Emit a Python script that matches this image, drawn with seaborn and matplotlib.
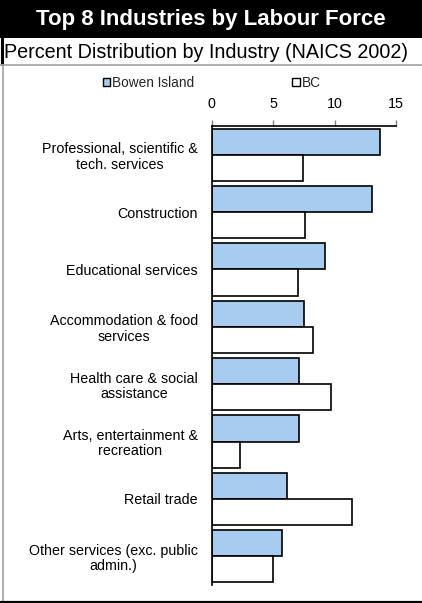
import matplotlib
matplotlib.use("Agg")
import matplotlib.pyplot as plt
import seaborn as sns
import pandas as pd
from matplotlib.patches import Rectangle
from matplotlib.lines import Line2D

categories = [
    "Professional, scientific &\ntech. services",
    "Construction",
    "Educational services",
    "Accommodation & food\nservices",
    "Health care & social\nassistance",
    "Arts, entertainment &\nrecreation",
    "Retail trade",
    "Other services (exc. public\nadmin.)",
]
bowen_island = [13.7, 13.0, 9.2, 7.5, 7.1, 7.1, 6.1, 5.7]
bc = [7.4, 7.6, 7.0, 8.2, 9.7, 2.3, 11.4, 5.0]
series_names = ["Bowen Island", "BC"]
x_ticks = [0, 5, 10, 15]

df = pd.DataFrame({
    "Industry": categories * 2,
    "Value": bowen_island + bc,
    "Region": [series_names[0]] * len(categories) + [series_names[1]] * len(categories),
})

sns.set_theme(style="white")
plt.rcParams["font.family"] = ["Liberation Sans", "DejaVu Sans"]

fig = plt.figure(figsize=(4.22, 6.03), dpi=100)
W, H = 422, 603
ax = fig.add_axes([211.7 / W, 1 - 585 / H, (396.3 - 211.7) / W, (585 - 126) / H])

palette = {"Bowen Island": "#A8CBF0", "BC": "#FFFFFF"}
sns.barplot(data=df, y="Industry", x="Value", hue="Region", order=categories,
            hue_order=series_names, palette=palette, orient="h", width=0.91,
            edgecolor="black", linewidth=1.2, ax=ax, legend=False, saturation=1)

ax.set_xlim(0, 15)
ax.set_xticks(x_ticks)
ax.set_xticklabels([str(t) for t in x_ticks])
ax.xaxis.tick_top()
ax.xaxis.set_label_position("top")
ax.set_xlabel("")
ax.set_ylabel("")
ax.tick_params(axis="x", which="both", top=True, bottom=False, length=4,
               color="#808080", width=1, labelsize=10.3, pad=7, labelcolor="black")
ax.tick_params(axis="y", length=0, labelsize=10.3, pad=10, labelcolor="black")
for lab in ax.get_yticklabels():
    lab.set_multialignment("center")
    lab.set_linespacing(1.12)
for s in ["right", "bottom"]:
    ax.spines[s].set_visible(False)
for s in ["top", "left"]:
    ax.spines[s].set_visible(True)
    ax.spines[s].set_color("black")
    ax.spines[s].set_linewidth(1.2)

# legend
handles = [
    Rectangle((0, 0), 1, 1, facecolor=palette["Bowen Island"], edgecolor="black", linewidth=1),
    Rectangle((0, 0), 1, 1, facecolor=palette["BC"], edgecolor="black", linewidth=1),
]
fig.legend(handles, series_names, loc="center", bbox_to_anchor=(0.502, 1 - 83 / H),
           ncol=2, frameon=False, fontsize=9.8, handlelength=0.55, handleheight=0.55,
           handletextpad=0.15, columnspacing=7.2, borderpad=0)

# header band and frame
fig.patches.append(Rectangle((0, 1 - 38 / H), 1, 38 / H, transform=fig.transFigure,
                             facecolor="black", edgecolor="none", zorder=0))
fig.text(0.5, 1 - 19 / H, "Top 8 Industries by Labour Force", color="white",
         fontsize=16, fontweight="bold", ha="center", va="center")
fig.text(0.489, 1 - 52 / H, "Percent Distribution by Industry (NAICS 2002)", color="black",
         fontsize=14.2, ha="center", va="center")
fig.lines.append(Line2D([1.5 / W, 1.5 / W], [1 - 38 / H, 1 - 64 / H], transform=fig.transFigure,
                        color="black", linewidth=2.2))
fig.lines.append(Line2D([0, 1], [1 - 65 / H, 1 - 65 / H], transform=fig.transFigure,
                        color="#A0A0A0", linewidth=1.2))
fig.lines.append(Line2D([2.5 / W, 2.5 / W], [1 - 65 / H, 1 - 601 / H], transform=fig.transFigure,
                        color="#A0A0A0", linewidth=1.2))
fig.lines.append(Line2D([0, 1], [1 - 600.5 / H, 1 - 600.5 / H], transform=fig.transFigure,
                        color="#A0A0A0", linewidth=1.0))
fig.lines.append(Line2D([0, 1], [1 - 602.2 / H, 1 - 602.2 / H], transform=fig.transFigure,
                        color="black", linewidth=1.5))

fig.savefig("out.png", dpi=100)
